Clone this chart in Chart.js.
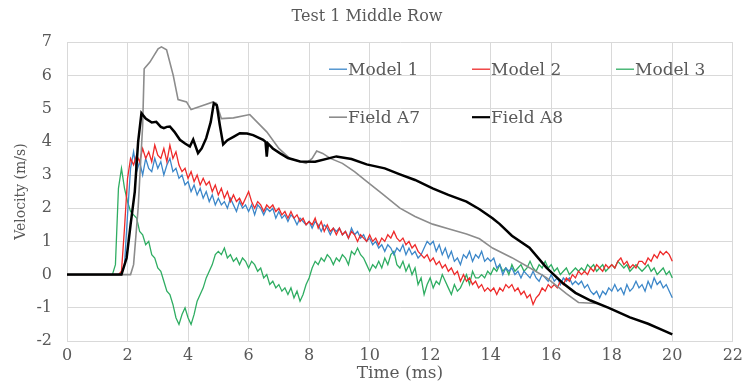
<!DOCTYPE html>
<html><head><meta charset="utf-8">
<script src="https://cdn.jsdelivr.net/npm/chart.js@4.4.1/dist/chart.umd.min.js"></script>
<style>html,body{margin:0;padding:0;background:#fff;}canvas{display:block;}</style>
</head><body>
<canvas id="c" width="748" height="389"></canvas>
<script>
const chartTitle = 'Test 1 Middle Row';
const xTitle = 'Time (ms)';
const yTitle = 'Velocity (m/s)';
const seriesNames = ['Model 1', 'Model 2', 'Model 3', 'Field A7', 'Field A8'];
const xTickValues = [0, 2, 4, 6, 8, 10, 12, 14, 16, 18, 20, 22];
const yTickValues = [-2, -1, 0, 1, 2, 3, 4, 5, 6, 7];

// model outputs sampled every 0.1 ms from 0 to 20 ms (one row per ms)
const modelStepMs = 0.1;
const model1 = [
  0,0,0,0,0,0,0,0,0,0,
  0,0,0,0,0,0,0,0,0,0.3,
  1.8,3.2,3.7,3.1,3.4,3.0,3.5,3.2,3.1,3.5,
  3.2,3.4,3.0,3.3,3.5,3.1,3.2,2.9,3.0,2.7,
  2.8,2.5,2.7,2.4,2.6,2.3,2.5,2.2,2.4,2.1,
  2.3,2.1,2.2,2.0,2.3,2.1,1.9,2.2,2.0,2.1,
  1.9,2.1,1.8,2.1,2.0,1.8,2.0,1.9,2.0,1.7,
  1.9,1.7,1.8,1.6,1.8,1.7,1.5,1.7,1.6,1.5,
  1.6,1.4,1.6,1.5,1.3,1.5,1.4,1.2,1.4,1.3,
  1.4,1.2,1.3,1.1,1.4,1.2,1.3,1.1,1.2,1.0,
  1.1,0.9,1.0,0.8,0.9,0.7,0.9,0.8,0.6,0.8,
  0.7,0.9,0.6,0.8,0.6,0.7,0.5,0.6,0.8,1.0,
  0.9,1.0,0.7,0.9,0.6,0.8,0.5,0.7,0.4,0.5,
  0.3,0.6,0.5,0.7,0.4,0.6,0.5,0.7,0.4,0.5,
  0.4,0.5,0.2,0.3,0.0,0.2,0.1,0.2,0.0,0.1,
  -0.1,0.1,0.0,-0.1,0.1,-0.1,-0.2,0.0,-0.1,-0.2,
  0.0,-0.2,-0.1,-0.3,-0.1,-0.2,-0.1,-0.3,-0.2,-0.3,
  -0.2,-0.4,-0.3,-0.5,-0.6,-0.5,-0.7,-0.5,-0.6,-0.4,
  -0.5,-0.3,-0.5,-0.4,-0.6,-0.3,-0.5,-0.4,-0.2,-0.4,
  -0.3,-0.5,-0.2,-0.4,-0.1,-0.3,-0.2,-0.4,-0.3,-0.5,
  -0.7
];
const model2 = [
  0,0,0,0,0,0,0,0,0,0,
  0,0,0,0,0,0,0,0,0.1,1.4,
  2.9,3.5,3.3,3.6,3.4,3.8,3.5,3.7,3.4,3.9,
  3.6,3.5,3.8,3.4,3.9,3.5,3.7,3.3,3.1,3.2,
  2.9,3.1,2.8,3.0,2.7,2.9,2.7,2.8,2.5,2.7,
  2.4,2.6,2.3,2.5,2.2,2.4,2.2,2.3,2.1,2.3,
  2.5,2.2,2.0,2.2,2.1,1.9,2.1,2.0,2.1,1.9,
  2.0,1.8,1.9,1.7,1.9,1.7,1.8,1.6,1.7,1.5,
  1.6,1.5,1.7,1.4,1.6,1.3,1.5,1.3,1.4,1.2,
  1.4,1.2,1.3,1.1,1.3,1.2,1.0,1.2,1.1,1.0,
  1.2,1.0,1.1,0.9,1.1,1.0,1.2,1.1,1.3,1.1,
  1.0,1.1,0.9,1.0,0.8,0.9,0.7,0.6,0.5,0.6,
  0.4,0.5,0.3,0.4,0.2,0.3,0.1,0.2,0.0,0.1,
  -0.2,0.0,-0.2,-0.1,-0.3,-0.2,-0.4,-0.3,-0.5,-0.4,
  -0.5,-0.4,-0.6,-0.4,-0.5,-0.3,-0.4,-0.3,-0.5,-0.4,
  -0.6,-0.5,-0.7,-0.6,-0.9,-0.7,-0.6,-0.4,-0.5,-0.3,
  -0.4,-0.3,-0.4,-0.2,-0.3,-0.1,-0.2,0.0,-0.1,0.1,
  0.0,0.1,0.0,0.2,0.1,0.3,0.2,0.1,0.3,0.2,
  0.3,0.2,0.4,0.5,0.3,0.4,0.2,0.3,0.2,0.4,
  0.4,0.3,0.5,0.4,0.6,0.5,0.7,0.6,0.7,0.6,
  0.4
];
const model3 = [
  0,0,0,0,0,0,0,0,0,0,
  0,0,0,0,0,0,0.3,2.6,3.2,2.6,
  2.2,1.9,1.8,1.7,1.3,1.2,0.9,1.0,0.6,0.5,
  0.2,0.1,-0.2,-0.5,-0.6,-0.9,-1.3,-1.5,-1.2,-1.0,
  -1.3,-1.5,-1.2,-0.8,-0.6,-0.4,-0.1,0.1,0.3,0.6,
  0.7,0.6,0.8,0.5,0.6,0.4,0.5,0.3,0.5,0.4,
  0.2,0.4,0.3,0.1,0.2,-0.1,0.0,-0.3,-0.2,-0.4,
  -0.3,-0.5,-0.4,-0.6,-0.4,-0.7,-0.5,-0.8,-0.6,-0.3,
  -0.1,0.2,0.4,0.3,0.5,0.4,0.6,0.5,0.3,0.5,
  0.4,0.6,0.5,0.3,0.7,0.6,0.8,0.6,0.5,0.3,
  0.1,0.3,0.2,0.4,0.2,0.5,0.3,0.6,0.7,0.3,
  0.2,0.4,0.1,0.3,0.0,0.2,-0.3,-0.1,-0.6,-0.3,
  -0.1,-0.4,-0.2,-0.3,0.0,-0.2,-0.4,-0.6,-0.3,-0.5,
  -0.4,-0.2,0.0,-0.3,0.1,-0.1,-0.1,0.0,-0.1,0.1,
  0.0,0.2,0.1,0.3,0.1,0.2,0.0,0.3,0.1,0.2,
  0.3,0.1,0.2,0.4,0.2,0.1,0.3,0.2,0.4,0.2,
  0.3,0.1,0.2,0.0,0.1,0.2,0.0,0.1,0.2,0.1,
  0.2,0.1,0.3,0.2,0.3,0.1,0.2,0.3,0.1,0.2,
  0.3,0.2,0.4,0.3,0.2,0.3,0.1,0.2,0.3,0.2,
  0.1,0.2,0.3,0.1,0.2,0.0,0.1,0.2,0.0,0.1,
  -0.1
];

// field gauges (irregular time stamps)
const fieldA7Times = [0,2.1,2.2,2.35,2.5,2.55,2.74,3.01,3.12,3.29,3.51,3.67,3.95,4.1,4.39,4.83,4.94,5.1,5.5,6.04,6.6,7.0,7.36,7.9,8.1,8.25,8.45,8.7,9.1,9.5,9.9,10.4,11.0,11.5,12.08,12.6,13.2,13.63,14.06,14.7,15.3,15.84,16.5,16.9,17.5];
const fieldA7Values = [0,0,0.3,2.0,4.5,6.2,6.4,6.8,6.86,6.77,6.0,5.27,5.2,4.97,5.06,5.2,5.16,4.7,4.72,4.82,4.3,3.8,3.5,3.35,3.5,3.72,3.65,3.5,3.35,3.1,2.81,2.45,2.0,1.75,1.52,1.38,1.22,1.08,0.8,0.51,0.2,-0.09,-0.57,-0.84,-0.87];
const fieldA8Times = [0,1.8,1.97,2.1,2.24,2.35,2.46,2.6,2.8,2.95,3.1,3.2,3.3,3.4,3.55,3.73,3.9,4.06,4.17,4.33,4.45,4.6,4.75,4.85,4.95,5.05,5.16,5.3,5.5,5.71,5.95,6.15,6.48,6.56,6.6,6.64,6.8,7.03,7.3,7.7,8.2,8.9,9.4,9.9,10.5,11.0,11.5,12.08,12.6,13.2,13.63,14.06,14.3,14.7,15.28,15.84,16.4,16.8,17.3,17.9,18.6,19.2,19.7,20.0];
const fieldA8Values = [0,0,0.5,1.5,2.5,4.0,4.86,4.7,4.58,4.6,4.45,4.41,4.45,4.46,4.3,4.06,3.95,3.86,4.07,3.66,3.8,4.11,4.6,5.16,5.1,4.5,3.92,4.05,4.15,4.26,4.25,4.2,4.06,4.0,3.55,3.95,3.8,3.66,3.51,3.41,3.4,3.56,3.48,3.32,3.2,3.02,2.85,2.6,2.4,2.2,1.97,1.7,1.52,1.17,0.81,0.21,-0.27,-0.55,-0.78,-1.0,-1.29,-1.48,-1.68,-1.8];

const seriesColors = ['#3c87c9', '#ee2a2a', '#2fad62', '#8c8c8c', '#000000'];
const seriesWidths = [1.3, 1.3, 1.3, 1.6, 2.5];
const drawOrder = [4, 3, 5, 2, 1];

const onModelGrid = vals => vals.map((v, i) => ({ x: Math.round(i * modelStepMs * 10) / 10, y: v }));
const paired = (ts, vs) => ts.map((t, i) => ({ x: t, y: vs[i] }));

const seriesData = [
  onModelGrid(model1),
  onModelGrid(model2),
  onModelGrid(model3),
  paired(fieldA7Times, fieldA7Values),
  paired(fieldA8Times, fieldA8Values)
];

const FONT = '"DejaVu Serif", "Liberation Serif", serif';
const TEXT = '#595959';
const GRID = '#d9d9d9';

const insideLegend = {
  id: 'insideLegend',
  afterDraw(chart) {
    const { ctx, chartArea: a } = chart;
    const cols = [a.left + 262, a.left + 405, a.left + 549];
    const rows = [a.top + 27, a.top + 75];
    ctx.save();
    ctx.font = '17px ' + FONT;
    ctx.textBaseline = 'middle';
    ctx.textAlign = 'left';
    chart.data.datasets.forEach((ds, i) => {
      const x = cols[i % 3], y = rows[Math.floor(i / 3)];
      ctx.strokeStyle = ds.borderColor;
      ctx.lineWidth = Math.min(ds.borderWidth, 2.2);
      ctx.beginPath(); ctx.moveTo(x, y); ctx.lineTo(x + 18, y); ctx.stroke();
      ctx.fillStyle = TEXT;
      ctx.fillText(ds.label, x + 19, y + 1);
    });
    ctx.restore();
  }
};

const whiteBg = {
  id: 'whiteBg',
  beforeDraw(chart) {
    const { ctx } = chart;
    ctx.save(); ctx.fillStyle = '#fff'; ctx.fillRect(0, 0, chart.width, chart.height); ctx.restore();
  }
};

new Chart(document.getElementById('c'), {
  type: 'line',
  data: {
    datasets: seriesNames.map((name, i) => ({
      label: name,
      data: seriesData[i],
      borderColor: seriesColors[i],
      backgroundColor: seriesColors[i],
      borderWidth: seriesWidths[i],
      pointRadius: 0,
      tension: 0,
      fill: false,
      order: drawOrder[i]
    }))
  },
  options: {
    responsive: false,
    animation: false,
    devicePixelRatio: 1,
    layout: { padding: { left: 0, right: 14, top: 0, bottom: 0 } },
    plugins: {
      legend: { display: false },
      tooltip: { enabled: false },
      title: {
        display: true,
        text: chartTitle,
        color: TEXT,
        font: { family: FONT, size: 16, weight: 'normal' },
        padding: { top: 7, bottom: 16 }
      }
    },
    scales: {
      x: {
        type: 'linear',
        min: xTickValues[0],
        max: xTickValues[xTickValues.length - 1],
        afterBuildTicks: s => { s.ticks = xTickValues.map(v => ({ value: v })); },
        afterFit: s => { s.height = 48; },
        grid: { color: GRID, drawTicks: false },
        border: { color: GRID },
        ticks: { color: TEXT, font: { family: FONT, size: 16 }, padding: 5, maxRotation: 0, autoSkip: false },
        title: { display: true, text: xTitle, color: TEXT, font: { family: FONT, size: 17 }, padding: { top: 0, bottom: 5 } }
      },
      y: {
        type: 'linear',
        min: yTickValues[0],
        max: yTickValues[yTickValues.length - 1],
        afterBuildTicks: s => { s.ticks = yTickValues.map(v => ({ value: v })); },
        afterFit: s => { s.width = 67; },
        grid: { color: GRID, drawTicks: false },
        border: { color: GRID },
        ticks: { color: TEXT, font: { family: FONT, size: 16 }, padding: 15, autoSkip: false },
        title: { display: true, text: yTitle, color: TEXT, font: { family: FONT, size: 14 }, padding: { top: 13, bottom: 0 } }
      }
    }
  },
  plugins: [whiteBg, insideLegend]
});
</script>
</body></html>
